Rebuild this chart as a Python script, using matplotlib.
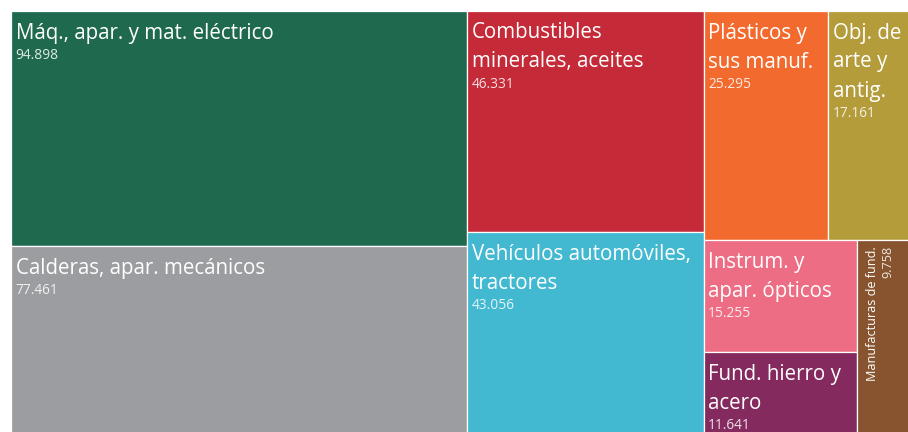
import matplotlib
matplotlib.use("Agg")
import matplotlib.pyplot as plt
from matplotlib.patches import Rectangle

# ---- data ----
labels = [
    "Máq., apar. y mat. eléctrico",
    "Calderas, apar. mecánicos",
    "Combustibles\nminerales, aceites",
    "Vehículos automóviles,\ntractores",
    "Plásticos y\nsus manuf.",
    "Obj. de\narte y\nantig.",
    "Instrum. y\napar. ópticos",
    "Fund. hierro y\nacero",
    "Manufacturas de fund.",
]
values = [94.898, 77.461, 46.331, 43.056, 25.295, 17.161, 15.255, 11.641, 9.758]
colors = ["#1f6a4f", "#9c9da0", "#c42a37", "#42b9d1", "#f26a2d",
          "#b49c3b", "#ed6e84", "#852a5e", "#87542f"]


def squarify(vals, x0, y0, x1, y1, ratio=(1 + 5 ** 0.5) / 2):
    """Port of d3.treemapSquarify."""
    rects = []
    n = len(vals)
    i0 = i1 = 0
    value = sum(vals)
    while i0 < n:
        dx, dy = x1 - x0, y1 - y0
        sumv = vals[i1]
        i1 += 1
        minv = maxv = sumv
        alpha = max(dy / dx, dx / dy) / (value * ratio)
        beta = sumv * sumv * alpha
        minr = max(maxv / beta, beta / minv)
        while i1 < n:
            nv = vals[i1]
            s2 = sumv + nv
            mn, mx = min(minv, nv), max(maxv, nv)
            beta = s2 * s2 * alpha
            nr = max(mx / beta, beta / mn)
            if nr > minr:
                break
            sumv, minv, maxv, minr = s2, mn, mx, nr
            i1 += 1
        row = vals[i0:i1]
        if dx < dy:
            h = dy * sumv / value
            xx = x0
            for v in row:
                w = dx * v / sumv
                rects.append((xx, y0, w, h))
                xx += w
            y0 += h
        else:
            w = dx * sumv / value
            yy = y0
            for v in row:
                hh = dy * v / sumv
                rects.append((x0, yy, w, hh))
                yy += hh
            x0 += w
        value -= sumv
        i0 = i1
    return rects


W, H = 902, 427
fig = plt.figure(figsize=(9.08, 4.32), dpi=100)
ax = fig.add_axes([11 / 908, -6 / 432, W / 908, H / 432])
ax.set_xlim(0, W)
ax.set_ylim(H, 0)
ax.axis("off")

FONT = ["Open Sans", "DejaVu Sans"]
rects = squarify(values, 0, 0, W, H)
for (x, y, w, h), lab, v, c in zip(rects, labels, values, colors):
    ax.add_patch(Rectangle((x, y), w, h, facecolor=c, edgecolor="white",
                           linewidth=0.9))
    if w < 70:
        ax.text(x + 19, y + 6, lab, rotation=90, rotation_mode="anchor",
                ha="right", va="baseline", color="white", fontsize=9.1,
                family=FONT)
        ax.text(x + 34, y + 6, f"{v:.3f}", rotation=90, rotation_mode="anchor",
                ha="right", va="baseline", color="white", alpha=0.85,
                fontsize=9.1, family=FONT)
    else:
        lines = lab.split("\n")
        for i, ln in enumerate(lines):
            ax.text(x + 4.5, y + 27.5 + 29 * i, ln, ha="left", va="baseline",
                    color="white", fontsize=14.8, family=FONT)
        ax.text(x + 4.5, y + 27.5 + 29 * (len(lines) - 1) + 20.5, f"{v:.3f}",
                ha="left", va="baseline", color="white", alpha=0.85,
                fontsize=9.9, family=FONT)

fig.savefig("out.png", dpi=100)
